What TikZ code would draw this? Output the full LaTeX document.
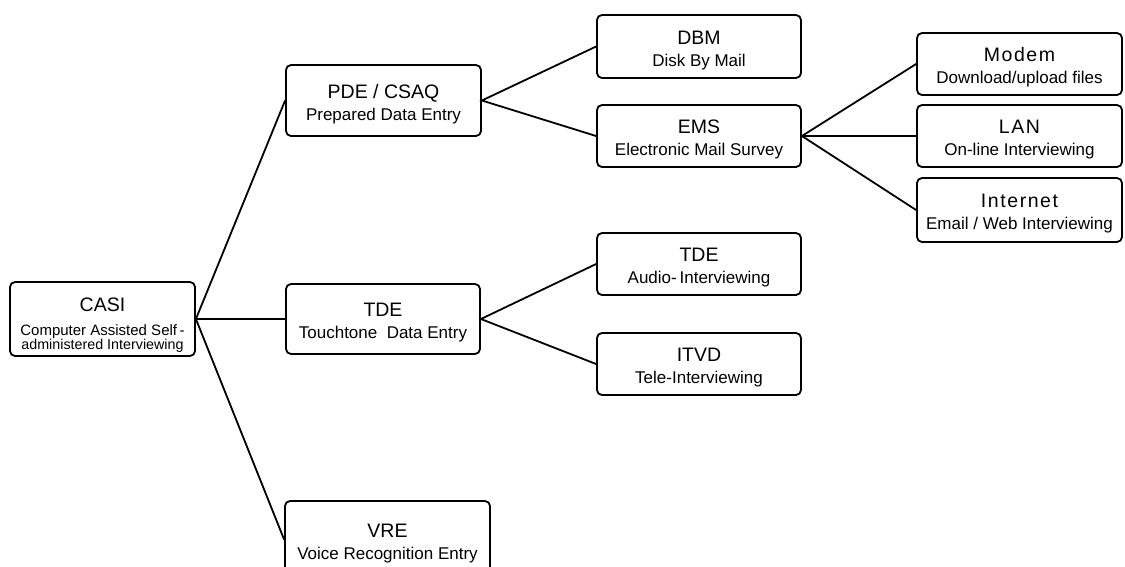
\documentclass[tikz,border=0pt]{standalone}
\usepackage{fontspec}
\setmainfont{Liberation Sans}
\newfontfamily\spacedfont[LetterSpace=8]{Liberation Sans}
% heading line of a box (with a strut that sets its place), followed by its description
\newcommand\boxhead[1]{{\fontsize{19.5}{22}\selectfont\rule{0pt}{20.6pt}#1}\\[3pt]}
\newcommand\spacedhead[1]{{\spacedfont\fontsize{19.5}{22}\selectfont\rule{0pt}{20.6pt}#1}\\[3pt]}
\begin{document}
\begin{tikzpicture}[x=1pt,y=-1pt,
  box/.style={draw, line width=1.8pt, rounded corners=5pt, inner sep=0pt,
    align=center, font=\fontsize{17}{19}\selectfont},
  link/.style={line width=1.8pt}]
\useasboundingbox (0,0) rectangle (1125,566);

% root
\node[box, minimum width=185pt, minimum height=74pt, font=\fontsize{15}{14}\selectfont] (casi) at (102.5,319)
  {{\fontsize{19.5}{22}\selectfont\rule{0pt}{25pt}CASI}\\[10pt]
   Computer Assisted Self\,-\\
   \fontsize{14.3}{14}\selectfont administered Interviewing};

% second level
\node[box, minimum width=195pt, minimum height=71pt] (pde) at (383.5,100.5)
  {\boxhead{PDE / CSAQ}Prepared Data Entry};
\node[box, minimum width=194pt, minimum height=70pt] (tde) at (383,319)
  {\boxhead{TDE}Touchtone\ \ Data Entry};
\node[box, minimum width=205pt, minimum height=77pt] (vre) at (387.5,539.5)
  {\boxhead{VRE}Voice Recognition Entry};

% third level
\node[box, minimum width=204pt, minimum height=63pt] (dbm) at (699,46.5)
  {\boxhead{DBM}Disk By Mail};
\node[box, minimum width=204pt, minimum height=62pt] (ems) at (699,136)
  {\boxhead{EMS}Electronic Mail Survey};
\node[box, minimum width=204pt, minimum height=62pt] (tdea) at (699,264)
  {\boxhead{TDE}Audio-\,Interviewing};
\node[box, minimum width=204pt, minimum height=62pt] (itvd) at (699,364)
  {\boxhead{ITVD}Tele-Interviewing};

% fourth level
\node[box, minimum width=205pt, minimum height=62pt] (modem) at (1019.5,64)
  {\spacedhead{Modem}Download/upload files};
\node[box, minimum width=205pt, minimum height=62pt] (lan) at (1019.5,136)
  {\spacedhead{LAN}On-line Interviewing};
\node[box, minimum width=205pt, minimum height=64pt] (internet) at (1019.5,210)
  {\spacedhead{Internet}Email / Web Interviewing};

% connectors
\draw[link] (pde.west) -- (casi.east) -- (tde.west);
\draw[link] (casi.east) -- (vre.west);
\draw[link] (dbm.west) -- (pde.east) -- (ems.west);
\draw[link] (tdea.west) -- (tde.east) -- (itvd.west);
\draw[link] (modem.west) -- (ems.east) -- (internet.west);
\draw[link] (ems.east) -- (lan.west);
\end{tikzpicture}
\end{document}
